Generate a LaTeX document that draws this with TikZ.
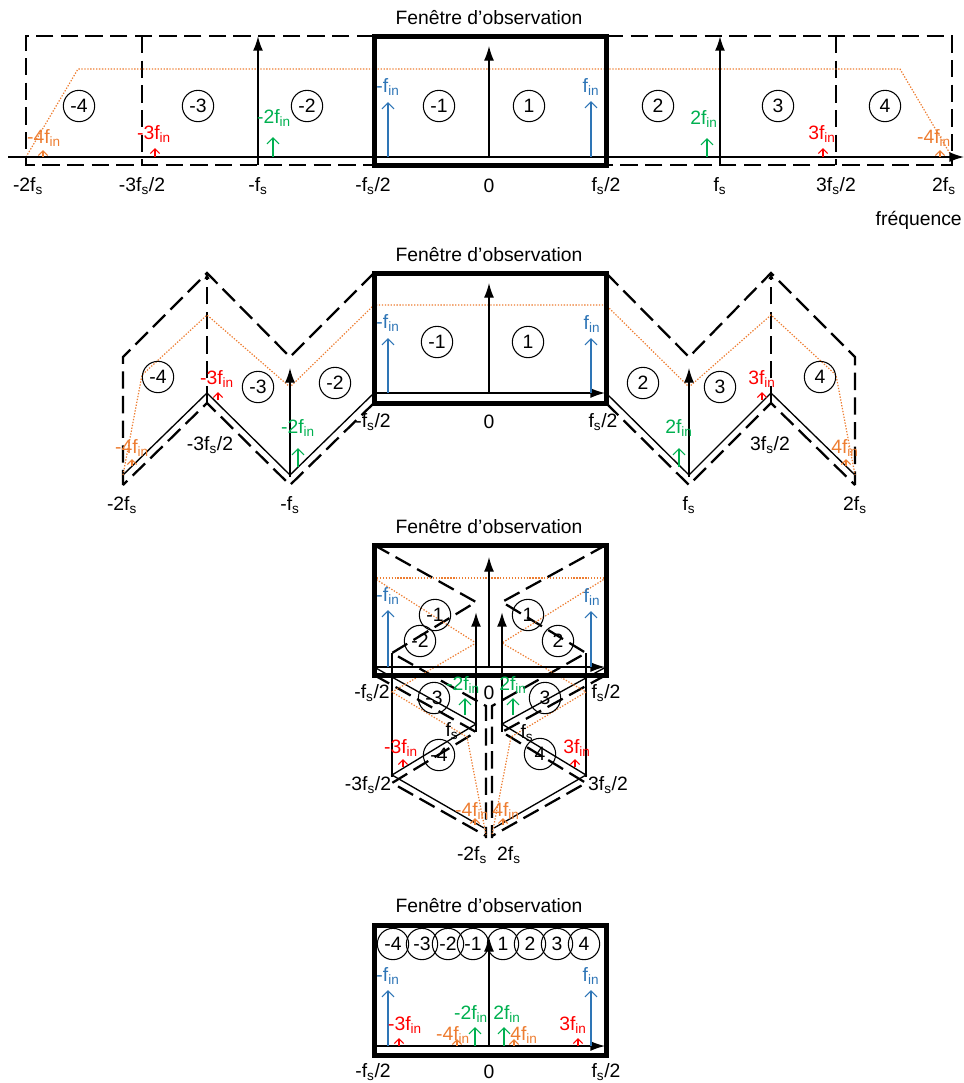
\documentclass[tikz,border=0pt]{standalone}
\usepackage{fontspec}
\setmainfont{Liberation Sans}
\usetikzlibrary{arrows.meta}
\definecolor{fblue}{HTML}{2E75B6}
\definecolor{fgreen}{HTML}{00B050}
\definecolor{fred}{HTML}{FF0000}
\definecolor{forange}{HTML}{ED7D31}
\newcommand{\Fin}{f\textsubscript{in}}
\newcommand{\Fs}{f\textsubscript{s}}

\begin{document}
\begin{tikzpicture}[x=0.75pt, y=-0.75pt, >={Latex[length=11pt,width=7.5pt]},
  font=\fontsize{14.5}{17}\selectfont,
  win/.style={line width=3.75pt},
  zone/.style={line width=1.7pt, dash pattern=on 13pt off 5.5pt},
  ax/.style={line width=1pt},
  fsline/.style={line width=1.6pt},
  spike/.style={line width=0.9pt, -{Straight Barb[length=4.5pt,width=9pt]}},
  spikesm/.style={line width=0.8pt, -{Straight Barb[length=3.5pt,width=7pt]}},
  band/.style={draw=forange, line width=0.9pt, dash pattern=on 1pt off 1.2pt},
  num/.style={circle, draw, line width=0.8pt, minimum size=23.5pt, inner sep=0pt},
  lbl/.style={inner sep=0pt}]
  \useasboundingbox (0,0) rectangle (964,1083);

  % spectre
  \node (ti1) at (489,18) {Fenêtre d’observation};
  \draw[zone] (374,36) -- (26,36) -- (26,165) -- (374,165);
  \draw[zone] (606,36) -- (952,36) -- (952,165) -- (606,165);
  \draw[zone] (142,36) -- (142,165);
  \draw[zone] (836,36) -- (836,165);
  \draw[band] (26,157) -- (78,69) -- (900,69) -- (952,157);
  \draw[ax,->] (8,157) -- (964,157);
  \draw[win] (374,36) rectangle (606,165);
  \draw[fsline,->] (258,165) -- (258,36);
  \draw[fsline,->] (720,165) -- (720,36);
  \draw[ax,->] (489,157) -- (489,46);
  \foreach \x/\k in {79/-4,198/-3,307/-2,439/-1,529/1,658/2,778/3,885/4}
    \node[num] (a\k) at (\x,106) {\k};
  \draw[spike,fblue] (388,157) -- (388,102);
  \node[lbl,fblue] (a1b) at (388,87) {-\Fin};
  \draw[spike,fblue] (591,157) -- (591,101);
  \node[lbl,fblue] (a2b) at (591,87) {\Fin};
  \draw[spike,fgreen] (273,157) -- (273,137);
  \node[lbl,fgreen] (a1g) at (274,118) {-2\Fin};
  \draw[spike,fgreen] (707,157) -- (707,138);
  \node[lbl,fgreen] (a2g) at (704,119) {2\Fin};
  \draw[spikesm,fred] (155,157) -- (155,148);
  \node[lbl,fred] (a1r) at (154,134) {-3\Fin};
  \draw[spikesm,fred] (823,157) -- (823,148);
  \node[lbl,fred] (a2r) at (822,134) {3\Fin};
  \draw[spikesm,forange] (43,157) -- (43,150);
  \node[lbl,forange] (a1o) at (44,138) {-4\Fin};
  \draw[spikesm,forange] (940,157) -- (940,150);
  \node[lbl,forange] (a2o) at (934,138) {-4\Fin};
  \node (x1) at (28,186) {-2\Fs};
  \node (x2) at (142,186) {-3\Fs/2};
  \node (x3) at (258,186) {-\Fs};
  \node (x4) at (373,186) {-\Fs/2};
  \node (x5) at (489,186) {0};
  \node (x6) at (606,186) {\Fs/2};
  \node (x7) at (720,186) {\Fs};
  \node (x8) at (836,186) {3\Fs/2};
  \node (x9) at (944,186) {2\Fs};
  \node[lbl, anchor=east] (fr) at (962,220) {fréquence};

  % repli en zigzag
  \node (ti2) at (489,255) {Fenêtre d’observation};
  \draw[zone] (374,273) -- (290,357) -- (207,273) -- (123,357) -- (123,485);
  \draw[zone] (606,273) -- (689,357) -- (771,273) -- (855,357) -- (855,485);
  \draw[zone] (374,403) -- (290,485) -- (207,403) -- (123,485);
  \draw[zone] (606,403) -- (689,485) -- (771,403) -- (855,485);
  \draw[zone,-{Latex[length=6pt,width=4pt]}] (207,403) -- (207,271);
  \draw[zone,-{Latex[length=6pt,width=4pt]}] (771,403) -- (771,271);
  \draw[ax] (374,393) -- (290,475) -- (207,393) -- (123,475);
  \draw[ax] (606,393) -- (689,475) -- (771,393) -- (855,475);
  \draw[band] (123,475) -- (142,375) -- (207,315) -- (290,387) -- (374,305)
    -- (606,305) -- (689,387) -- (771,315) -- (836,375) -- (855,475);
  \draw[win] (374,273) rectangle (606,403);
  \draw[ax,->] (374,393) -- (605,393);
  \draw[ax,->] (489,393) -- (489,283);
  \draw[ax,->] (290,477) -- (290,368);
  \draw[ax,->] (689,477) -- (689,368);
  \foreach \x/\y/\k in {158/377/-4,258/387/-3,335/383/-2,437/342/-1,
                        528/342/1,643/383/2,720/387/3,820/377/4}
    \node[num] (b\k) at (\x,\y) {\k};
  \draw[spike,fblue] (388,393) -- (388,338);
  \node[lbl,fblue] (b1b) at (388,323) {-\Fin};
  \draw[spike,fblue] (591,393) -- (591,338);
  \node[lbl,fblue] (b2b) at (592,324) {\Fin};
  \draw[spike,fgreen] (298,467) -- (298,448);
  \node[lbl,fgreen] (b1g) at (298,428) {-2\Fin};
  \draw[spike,fgreen] (679,467) -- (679,448);
  \node[lbl,fgreen] (b2g) at (679,428) {2\Fin};
  \draw[spikesm,fred] (218,400) -- (218,392);
  \node[lbl,fred] (b1r) at (217,379) {-3\Fin};
  \draw[spikesm,fred] (762,400) -- (762,392);
  \node[lbl,fred] (b2r) at (762,379) {3\Fin};
  \draw[spikesm,forange] (132,466) -- (132,459);
  \node[lbl,forange] (b1o) at (132,448) {-4\Fin};
  \draw[spikesm,forange] (846,466) -- (846,459);
  \node[lbl,forange] (b2o) at (845,448) {4\Fin};
  \node (y1) at (373,422) {-\Fs/2};
  \node (y2) at (489,422) {0};
  \node (y3) at (603,422) {\Fs/2};
  \node (y4) at (210,445) {-3\Fs/2};
  \node (y5) at (770,445) {3\Fs/2};
  \node (y6) at (122,505) {-2\Fs};
  \node (y7) at (290,505) {-\Fs};
  \node (y8) at (689,505) {\Fs};
  \node (y9) at (855,505) {2\Fs};

  % repli en accordeon
  \node (ti3) at (489,527) {Fenêtre d’observation};
  \draw[zone] (374,545) -- (476,602) -- (392,653) -- (486,706) -- (486,838);
  \draw[zone] (606,545) -- (502,602) -- (586,653) -- (492,706) -- (492,838);
  \draw[zone] (374,675) -- (476,732) -- (392,783) -- (486,836);
  \draw[zone] (606,675) -- (502,732) -- (586,783) -- (492,836);
  \draw[ax] (374,667) -- (476,724) -- (392,775) -- (484,828);
  \draw[ax] (606,667) -- (502,724) -- (586,775) -- (494,828);
  \draw[ax] (392,653) -- (392,777);
  \draw[ax] (586,653) -- (586,777);
  \draw[band] (374,578) -- (606,578);
  \draw[band] (374,578) -- (476,643) -- (392,692) -- (467,737) -- (486,835);
  \draw[band] (606,578) -- (502,643) -- (586,692) -- (511,737) -- (492,835);
  \draw[win] (374,545) rectangle (606,675);
  \draw[ax,->] (374,667) -- (605,667);
  \draw[ax,->] (489,667) -- (489,557);
  \draw[fsline,->] (476,732) -- (476,612);
  \draw[fsline,->] (502,732) -- (502,612);
  \foreach \x/\y/\k in {439/755/-4,434/698/-3,420/641/-2,435/615/-1,
                        528/615/1,558/641/2,545/698/3,540/754/4}
    \node[num] (c\k) at (\x,\y) {\k};
  \draw[spike,fblue] (388,667) -- (388,610);
  \node[lbl,fblue] (c1b) at (388,596) {-\Fin};
  \draw[spike,fblue] (591,667) -- (591,611);
  \node[lbl,fblue] (c2b) at (592,597) {\Fin};
  \draw[spike,fgreen] (465,715) -- (465,698);
  \node[lbl,fgreen] (c1g) at (463,685) {-2\Fin};
  \draw[spike,fgreen] (513,715) -- (513,698);
  \node[lbl,fgreen] (c2g) at (513,685) {2\Fin};
  \draw[spikesm,fred] (403,767) -- (403,759);
  \node[lbl,fred] (c1r) at (401,748) {-3\Fin};
  \draw[spikesm,fred] (575,767) -- (575,759);
  \node[lbl,fred] (c2r) at (577,748) {3\Fin};
  \draw[spikesm,forange] (475,825) -- (475,818);
  \node[lbl,forange] (c1o) at (472,811) {-4\Fin};
  \draw[spikesm,forange] (503,825) -- (503,818);
  \node[lbl,forange] (c2o) at (506,811) {4\Fin};
  \node (z1) at (372,693) {-\Fs/2};
  \node (z2) at (489,693) {0};
  \node (z3) at (606,693) {\Fs/2};
  \node (z4) at (452,731) {\Fs};
  \node (z5) at (527,733) {\Fs};
  \node (z6) at (368,785) {-3\Fs/2};
  \node (z7) at (608,785) {3\Fs/2};
  \node (z8) at (472,855) {-2\Fs};
  \node (z9) at (509,855) {2\Fs};

  % bande de base
  \node (ti4) at (489,906) {Fenêtre d’observation};
  \draw[win] (374,925) rectangle (606,1055);
  \draw[ax,->] (374,1046) -- (605,1046);
  \draw[ax,->] (489,1046) -- (489,937);
  \foreach \x/\k in {393/-4,422/-3,448/-2,473/-1,503/1,530/2,557/3,584/4}
    \node[num] (d\k) at (\x,944) {\k};
  \draw[spike,fblue] (388,1046) -- (388,990);
  \node[lbl,fblue] (d1b) at (388,976) {-\Fin};
  \draw[spike,fblue] (591,1046) -- (591,990);
  \node[lbl,fblue] (d2b) at (591,976) {\Fin};
  \draw[spike,fgreen] (475,1046) -- (475,1027);
  \node[lbl,fgreen] (d1g) at (471,1014) {-2\Fin};
  \draw[spike,fgreen] (504,1046) -- (504,1027);
  \node[lbl,fgreen] (d2g) at (507,1014) {2\Fin};
  \draw[spikesm,fred] (399,1046) -- (399,1038);
  \node[lbl,fred] (d1r) at (405,1025) {-3\Fin};
  \draw[spikesm,fred] (578,1046) -- (578,1038);
  \node[lbl,fred] (d2r) at (573,1025) {3\Fin};
  \draw[spikesm,forange] (457,1046) -- (457,1039);
  \node[lbl,forange] (d1o) at (453,1035) {-4\Fin};
  \draw[spikesm,forange] (514,1046) -- (514,1039);
  \node[lbl,forange] (d2o) at (524,1035) {4\Fin};
  \node (w1) at (373,1072) {-\Fs/2};
  \node (w2) at (489,1072) {0};
  \node (w3) at (606,1072) {\Fs/2};
\end{tikzpicture}
\end{document}
